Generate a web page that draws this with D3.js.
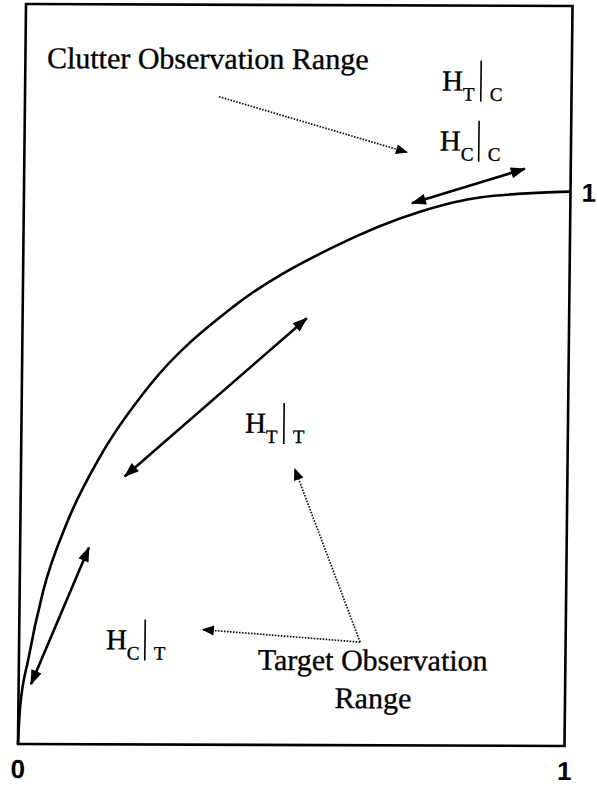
<!DOCTYPE html>
<html lang="en">
  <head>
    <meta charset="UTF-8" />
    <title>Observation Ranges</title>
    <style>
      body { margin: 0; background: #fff; }
      svg { display: block; }
      .serif { font-family: "Liberation Serif", "Times New Roman", serif; fill: #000; stroke: #000; stroke-width: 0.35px; }
      .tick { font-family: "Liberation Sans", Arial, sans-serif; font-weight: bold; font-size: 26px; fill: #000; }
    </style>
  </head>
  <body>
    <div id="chart"></div>

    <script src="https://cdn.jsdelivr.net/npm/d3@7"></script>
    <script>
    // curve (axis units)
    var curveX = [0, 0.003, 0.017, 0.043, 0.085, 0.144, 0.234, 0.385, 0.566, 0.725, 0.834, 1];
    var curveY = [0, 0.065, 0.152, 0.276, 0.399, 0.518, 0.648, 0.790, 0.898, 0.963, 0.989, 1];

    var xTickValues = [0, 1];
    var xTickLabels = ["0", "1"];
    var yTickValues = [1];
    var yTickLabels = ["1"];

    // double headed arrows next to the curve: [x1, y1, x2, y2]
    var rangeArrows = [
      [0.0225, 0.108, 0.126, 0.355],
      [0.190, 0.4835, 0.520, 0.770],
      [0.710, 0.978, 0.916, 1.041]
    ];
    // dotted pointers, head on the second point
    var pointers = [
      [0.355, 1.169, 0.700, 1.070],
      [0.624, 0.186, 0.501, 0.498],
      [0.624, 0.186, 0.336, 0.2075]
    ];

    // H_main | cond labels
    var hypoMain = ["T", "C", "T", "C"];
    var hypoCond = ["C", "C", "T", "T"];
    var hypoX = [0.7627, 0.760, 0.409, 0.159];
    var hypoY = [1.1817, 1.0734, 0.5629, 0.1714];

    var noteText = ["Clutter Observation Range", "Target Observation", "Range"];
    var noteX = [0.0395, 0.4373, 0.6487];
    var noteY = [1.2196, 0.1353, 0.0668];
    var noteAnchor = ["start", "start", "middle"];

    var yTop = 1.335;

    var width = 597;
    var height = 786;

    var svg = d3.select("#chart")
                .append("svg")
                .attr("width", width)
                .attr("height", height);

    var defs = svg.append("defs");
    defs.append("marker")
        .attr("id", "solidHead")
        .attr("markerUnits", "userSpaceOnUse")
        .attr("viewBox", "-16 -6 18 12")
        .attr("markerWidth", 18)
        .attr("markerHeight", 12)
        .attr("refX", 0)
        .attr("refY", 0)
        .attr("orient", "auto-start-reverse")
        .append("path")
        .attr("d", "M1,0 L-14,-5.5 L-14,5.5 Z")
        .attr("fill", "#000");
    defs.append("marker")
        .attr("id", "dotHead")
        .attr("markerUnits", "userSpaceOnUse")
        .attr("viewBox", "-14 -6 16 12")
        .attr("markerWidth", 16)
        .attr("markerHeight", 12)
        .attr("refX", 0)
        .attr("refY", 0)
        .attr("orient", "auto")
        .append("path")
        .attr("d", "M1,0 L-11,-5 L-11,5 Z")
        .attr("fill", "#000");

    var x = d3.scaleLinear().domain([0, 1]).range([22, 568.5]);
    var y = d3.scaleLinear().domain([0, yTop]).range([745, 5]);

    // the scan is a little skewed
    var g = svg.append("g")
               .attr("transform", "translate(295,375) skewY(0.2) skewX(-0.62) translate(-295,-375)");

    g.append("rect")
     .attr("x", x(0))
     .attr("y", y(yTop))
     .attr("width", x(1) - x(0))
     .attr("height", y(0) - y(yTop))
     .attr("fill", "none")
     .attr("stroke", "#000")
     .attr("stroke-width", 2.6);

    var line = d3.line()
                 .x(function(d){ return x(d[0]); })
                 .y(function(d){ return y(d[1]); })
                 .curve(d3.curveMonotoneX);

    g.append("path")
     .datum(curveX.map(function(v, i){ return [v, curveY[i]]; }))
     .attr("d", line)
     .attr("fill", "none")
     .attr("stroke", "#000")
     .attr("stroke-width", 2.6);

    g.selectAll(".range")
     .data(rangeArrows)
     .enter()
     .append("line")
     .attr("class", "range")
     .attr("x1", function(d){ return x(d[0]); })
     .attr("y1", function(d){ return y(d[1]); })
     .attr("x2", function(d){ return x(d[2]); })
     .attr("y2", function(d){ return y(d[3]); })
     .attr("stroke", "#000")
     .attr("stroke-width", 2.6)
     .attr("marker-start", "url(#solidHead)")
     .attr("marker-end", "url(#solidHead)");

    g.selectAll(".pointer")
     .data(pointers)
     .enter()
     .append("line")
     .attr("class", "pointer")
     .attr("x1", function(d){ return x(d[0]); })
     .attr("y1", function(d){ return y(d[1]); })
     .attr("x2", function(d){ return x(d[2]); })
     .attr("y2", function(d){ return y(d[3]); })
     .attr("stroke", "#111")
     .attr("stroke-width", 1.7)
     .attr("stroke-dasharray", "1.6 1.4")
     .attr("marker-end", "url(#dotHead)");

    // tick labels
    g.selectAll(".xt")
     .data(xTickValues)
     .enter()
     .append("text")
     .attr("class", "tick")
     .attr("x", function(d){ return x(d); })
     .attr("y", y(0) + 34)
     .attr("text-anchor", "middle")
     .text(function(d, i){ return xTickLabels[i]; });

    g.selectAll(".yt")
     .data(yTickValues)
     .enter()
     .append("text")
     .attr("class", "tick")
     .attr("x", x(1) + 11)
     .attr("y", function(d){ return y(d) + 10; })
     .text(function(d, i){ return yTickLabels[i]; });

    // annotations
    g.selectAll(".note")
     .data(noteText)
     .enter()
     .append("text")
     .attr("class", "serif")
     .attr("x", function(d, i){ return x(noteX[i]); })
     .attr("y", function(d, i){ return y(noteY[i]); })
     .attr("text-anchor", function(d, i){ return noteAnchor[i]; })
     .style("font-size", "30px")
     .text(function(d){ return d; });

    var hyp = g.selectAll(".hyp")
               .data(hypoMain)
               .enter()
               .append("g")
               .attr("class", "hyp")
               .attr("transform", function(d, i){
                 return "translate(" + x(hypoX[i]) + "," + y(hypoY[i]) + ")";
               });
    hyp.append("text")
       .attr("class", "serif")
       .style("font-size", "29px")
       .text("H");
    hyp.append("text")
       .attr("class", "serif")
       .attr("x", 21)
       .attr("y", 10)
       .style("font-size", "19px")
       .text(function(d){ return d; });
    hyp.append("line")
       .attr("x1", 39).attr("x2", 39)
       .attr("y1", -30).attr("y2", 11)
       .attr("stroke", "#000")
       .attr("stroke-width", 1.6);
    hyp.append("text")
       .attr("class", "serif")
       .attr("x", 48)
       .attr("y", 10)
       .style("font-size", "19px")
       .text(function(d, i){ return hypoCond[i]; });
    </script>
  </body>
</html>
